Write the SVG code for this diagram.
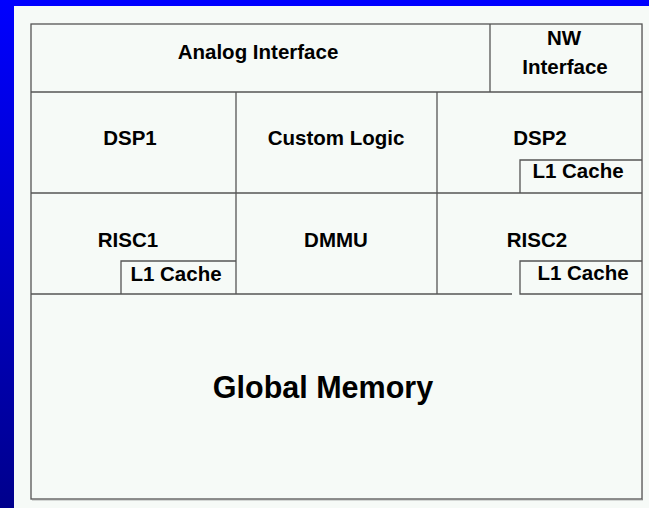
<svg xmlns="http://www.w3.org/2000/svg" width="649" height="508" viewBox="0 0 649 508">
<defs>
<linearGradient id="side" x1="0" y1="0" x2="0" y2="1">
<stop offset="0" stop-color="#0000ff"/>
<stop offset="1" stop-color="#00008c"/>
</linearGradient>
<style>
.box{fill:none;stroke:#555;stroke-width:1.3}
.ln{stroke:#555;stroke-width:1.3;fill:none}
text{font-family:"Liberation Sans",Arial,sans-serif;font-weight:bold;font-size:20.5px;fill:#000;text-anchor:middle}
.big{font-size:30.5px}
</style>
</defs>
<rect x="0" y="0" width="649" height="508" fill="#f6faf7"/>
<rect x="0" y="0" width="649" height="6" fill="#0000ff"/>
<rect x="0" y="0" width="14" height="508" fill="url(#side)"/>
<g id="frame">
<rect class="box" x="31" y="24" width="611" height="475"/>
<line x1="642.5" y1="25" x2="642.5" y2="500" stroke="#888" stroke-width="1"/>
<line x1="32" y1="499.8" x2="643" y2="499.8" stroke="#888" stroke-width="1"/>
</g>
<g id="connectors">
<line class="ln" x1="31" y1="92" x2="642" y2="92"/>
<line class="ln" x1="490" y1="24" x2="490" y2="92"/>
<line class="ln" x1="31" y1="193" x2="642" y2="193"/>
<line class="ln" x1="236" y1="92" x2="236" y2="294"/>
<line class="ln" x1="437" y1="92" x2="437" y2="294"/>
<line class="ln" x1="31" y1="294" x2="512" y2="294"/>
</g>
<g id="analog"><text x="258" y="59">Analog Interface</text></g>
<g id="nw"><text x="564" y="45">NW</text><text x="565" y="74">Interface</text></g>
<g id="dsp1"><text x="130" y="145">DSP1</text></g>
<g id="custom"><text x="336" y="145">Custom Logic</text></g>
<g id="dsp2"><text x="540" y="145">DSP2</text></g>
<g id="dsp2cache"><polyline class="ln" points="642,160 520,160 520,193"/><text x="578" y="178">L1 Cache</text></g>
<g id="risc1"><text x="128" y="247">RISC1</text></g>
<g id="risc1cache"><polyline class="ln" points="121,294 121,261 236,261"/><text x="176" y="281">L1 Cache</text></g>
<g id="dmmu"><text x="336" y="247">DMMU</text></g>
<g id="risc2"><text x="537" y="247">RISC2</text></g>
<g id="risc2cache"><polyline class="ln" points="642,261 520,261 520,294 642,294"/><text x="583" y="280">L1 Cache</text></g>
<g id="global"><text class="big" x="323" y="398">Global Memory</text></g>
</svg>
